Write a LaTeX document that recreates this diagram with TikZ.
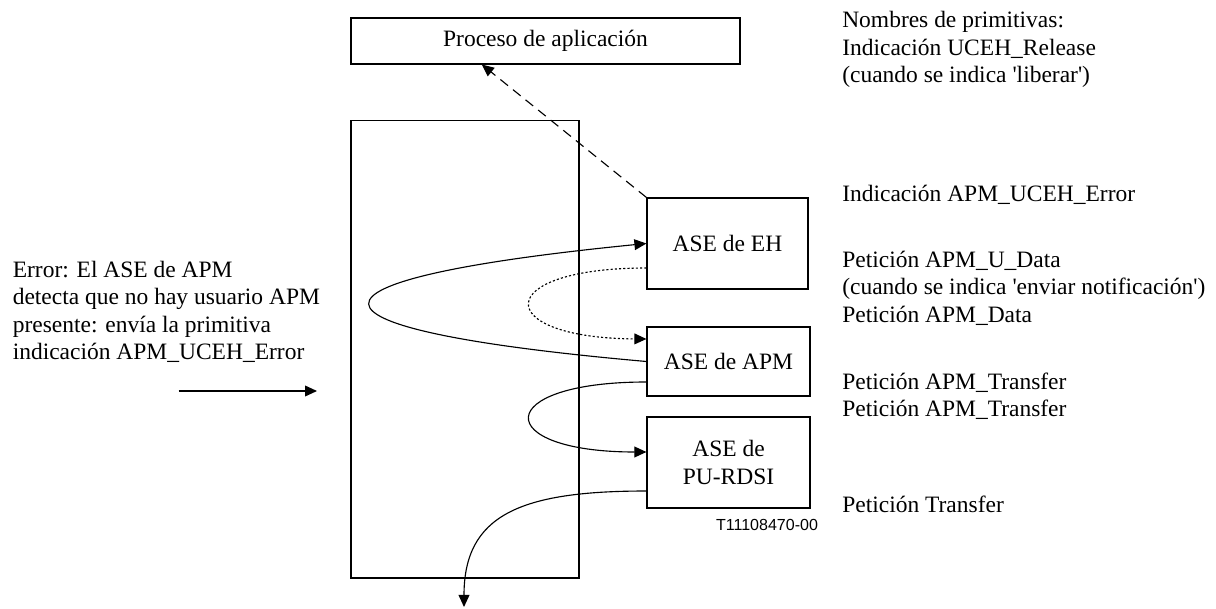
\documentclass[tikz,border=0pt]{standalone}
\usepackage{fontspec}
\setmainfont{Liberation Serif}
\setsansfont{Liberation Sans}
\usetikzlibrary{arrows.meta}

\begin{document}
\begin{tikzpicture}[x=0.025cm, y=-0.025cm,
    font=\fontsize{16.7}{19.6}\selectfont,
    box/.style={draw, line width=0.8pt, inner sep=0pt, align=center},
    lbl/.style={inner sep=0pt, align=left},
    flow/.style={line width=0.8pt, -{Triangle[length=0.3cm,width=0.27cm]}}]
  \useasboundingbox (0,0) rectangle (1216,609);
  % blocks
  \node[box, minimum width=9.725cm, minimum height=1.15cm] (proc) at (545.5,41) {Proceso de aplicación};
  \node[box, minimum width=5.7cm, minimum height=11.425cm] (ent) at (465,349.5) {};
  \node[box, minimum width=4.025cm, minimum height=2.275cm] (eh) at (727.5,243.5) {ASE de EH};
  \node[box, minimum width=4.075cm, minimum height=1.725cm] (apm) at (728.5,361.5) {ASE de APM};
  \node[box, minimum width=4.075cm, minimum height=2.275cm] (pu) at (728.5,462.5) {ASE de\\PU-RDSI};
  \node[inner sep=0pt, font=\sffamily\fontsize{11.4}{13}\selectfont] (ref) at (767,525) {T11108470-00};
  % primitives
  \node[lbl, anchor=west] (names) at (842,49.4) {Nombres de primitivas:\\Indicación UCEH\_Release\\(cuando se indica \textquotesingle liberar\textquotesingle)};
  \node[lbl, anchor=base west] (err) at (842,201.4) {Indicación APM\_UCEH\_Error};
  \node[lbl, anchor=west] (udata) at (842,288.2) {Petición APM\_U\_Data\\(cuando se indica \textquotesingle enviar notificación\textquotesingle)\\Petición APM\_Data};
  \node[lbl, anchor=west] (xfer) at (842,396.2) {Petición APM\_Transfer\\Petición APM\_Transfer};
  \node[lbl, anchor=base west] (tx) at (842,512.4) {Petición Transfer};
  \node[lbl, anchor=west] (cause) at (12.5,312) {Error: El ASE de APM\\detecta que no hay usuario APM\\presente: envía la primitiva\\indicación APM\_UCEH\_Error};
  % error arrow
  \coordinate (errin) at (178.5,391);
  \coordinate (errout) at (317,391);
  \draw[flow] (errin) -- (errout);
  % flows
  \draw[flow, dash pattern=on 7pt off 4.5pt] (eh.north west) -- ([xshift=-1.59cm]proc.south);
  \draw[flow] (apm.west) .. controls (278,329) and (278,280) .. (eh.west);
  \draw[flow, dash pattern=on 1.5pt off 1.5pt] ([yshift=-0.6125cm]eh.west) .. controls (491,268) and (491,338) .. ([yshift=0.5625cm]apm.west);
  \draw[flow] ([yshift=-0.5125cm]apm.west) .. controls (491,382) and (491,452) .. ([yshift=0.2625cm]pu.west);
  \coordinate (isdn) at (464,607);
  \draw[flow] ([yshift=-0.7125cm]pu.west) .. controls (520,491) and (464,515) .. (isdn);
\end{tikzpicture}
\end{document}
